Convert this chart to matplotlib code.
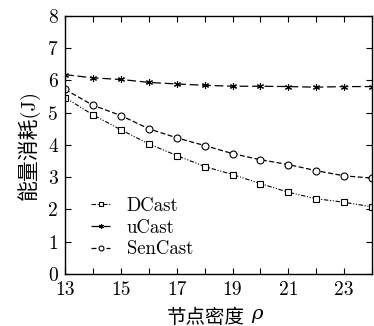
import matplotlib
matplotlib.use("Agg")
import matplotlib.pyplot as plt
from matplotlib.ticker import FuncFormatter, MultipleLocator

plt.rcParams['font.family'] = ['cmr10', 'Noto Sans CJK SC']
plt.rcParams['axes.formatter.use_mathtext'] = False

density = [13, 14, 15, 16, 17, 18, 19, 20, 21, 22, 23, 24]
dcast = [5.47, 4.93, 4.47, 4.03, 3.67, 3.33, 3.08, 2.80, 2.53, 2.33, 2.22, 2.08]
ucast = [6.18, 6.08, 6.03, 5.94, 5.89, 5.85, 5.82, 5.82, 5.81, 5.79, 5.81, 5.81]
sencast = [5.72, 5.23, 4.91, 4.50, 4.22, 3.98, 3.73, 3.54, 3.39, 3.20, 3.04, 2.97]

fig = plt.figure(figsize=(3.74, 3.26), dpi=100)
ax = fig.add_axes([0.174, 0.16, 0.821, 0.791])

ax.plot(density, dcast, color='black', lw=0.8, dashes=[4, 1.5, 1, 1.5, 1, 1.5],
        marker='s', ms=4.5, mfc='white', mew=0.8, label='DCast')
ax.plot(density, ucast, color='black', lw=0.9, dashes=[7, 3],
        marker=(6, 2, 0), ms=5, mew=0.8, label='uCast')
ax.plot(density, sencast, color='black', lw=0.9, dashes=[4, 2],
        marker='o', ms=5, mfc='white', mew=0.8, label='SenCast')

ax.set_xlim(13, 24)
ax.set_ylim(0, 8)
ax.xaxis.set_major_locator(MultipleLocator(1))
ax.xaxis.set_major_formatter(FuncFormatter(lambda v, p: f"{int(v)}" if int(v) % 2 == 1 else ""))
ax.yaxis.set_major_locator(MultipleLocator(1))
ax.tick_params(direction='in', top=True, right=True, length=4, width=0.8,
               labelsize=14, pad=5)
for s in ax.spines.values():
    s.set_linewidth(1.0)

ax.set_xlabel('节点密度', fontsize=14, labelpad=7)
ax.xaxis.label.set_x(0.46)
ax.annotate('ρ', xy=(1, 0.2), xycoords=ax.xaxis.label, xytext=(4, 0),
            textcoords='offset points', fontsize=14, family='DejaVu Serif',
            style='italic', ha='left', va='bottom')
ax.set_ylabel('能量消耗(J)', fontsize=15, labelpad=6)

leg = ax.legend(loc='lower left', bbox_to_anchor=(0.03, -0.005), frameon=False,
                fontsize=13.5, handlelength=1.0, handletextpad=0.9, labelspacing=0.2,
                markerscale=0.7)

fig.savefig('out.png', dpi=100)
